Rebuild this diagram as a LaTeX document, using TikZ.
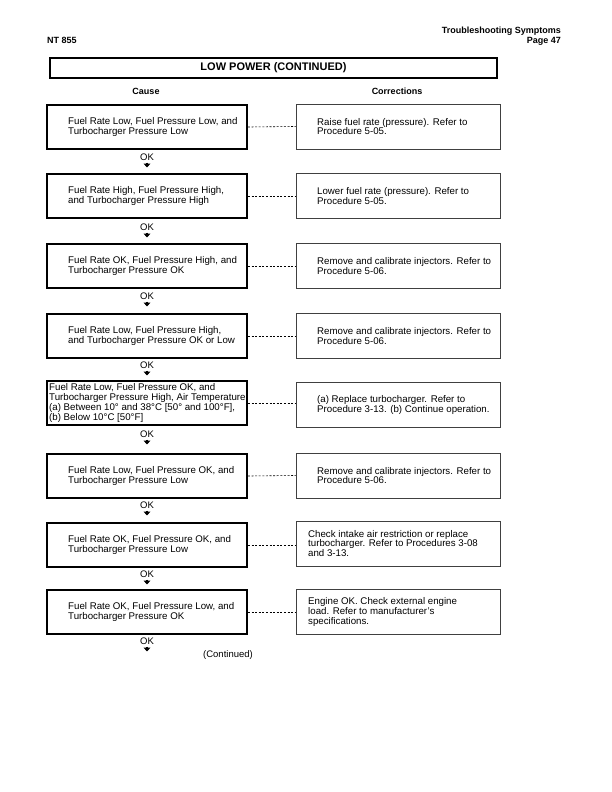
\documentclass[tikz,border=0pt]{standalone}
\usepackage{fontspec}
\setmainfont{Liberation Sans}
\usetikzlibrary{arrows.meta}
\begin{document}
\begin{tikzpicture}[x=1pt,y=-1pt,
 causebox/.style={draw=black,line width=1.8pt,minimum width=200pt,minimum height=44pt,inner sep=0pt},
 corrbox/.style={draw=black!75,line width=0.8pt,minimum width=204pt,minimum height=45pt,inner sep=0pt},
 btext/.style={anchor=west,align=left,font=\fontsize{9.7}{9.8}\selectfont,inner sep=0pt},
 oklabel/.style={font=\fontsize{9.5}{10}\selectfont,inner sep=0pt},
 headtext/.style={font=\bfseries\fontsize{9}{9}\selectfont,inner sep=0pt},
 link/.style={dash pattern=on 2pt off 1.6pt, line width=0.6pt},
 okarrow/.style={-{Triangle[width=6.5pt,length=3.8pt]},line width=1.4pt}]
\useasboundingbox[fill=white] (0,0) rectangle (612,792);

% header
\node[headtext,anchor=base east] (h1) at (561,34) {Troubleshooting Symptoms};
\node[headtext,anchor=base east] (h2) at (561,44) {Page 47};
\node[headtext,anchor=base west] (h3) at (47,44) {NT 855};
\node[draw,line width=1.5pt,minimum width=447pt,minimum height=20pt,inner sep=0pt,
      font=\bfseries\fontsize{11}{11}\selectfont] (title) at (273.5,68) {LOW POWER (CONTINUED)};
\node[headtext] (cause) at (146,91) {Cause};
\node[headtext] (corr) at (397,91) {Corrections};

% row 1
\node[causebox] (c1) at (147,127) {};
\node[btext] (ct1) at (68,127) {Fuel Rate Low, Fuel Pressure Low, and\\Turbocharger Pressure Low};
\node[corrbox] (r1) at (398,126.5) {};
\node[btext] (rt1) at (317,126.5) {Raise fuel rate (pressure). Refer to\\Procedure 5-05.};
\draw[link] (c1.east) -- (r1.west);
\node[oklabel] (ok1) at (147,157) {OK};
\coordinate (a1s) at (147,162.5); \coordinate (a1e) at (147,167.5);
\draw[okarrow] (a1s) -- (a1e);

% row 2
\node[causebox] (c2) at (147,196) {};
\node[btext] (ct2) at (68,196) {Fuel Rate High, Fuel Pressure High,\\and Turbocharger Pressure High};
\node[corrbox] (r2) at (398,196) {};
\node[btext] (rt2) at (317,196) {Lower fuel rate (pressure). Refer to\\Procedure 5-05.};
\draw[link] (c2.east) -- (r2.west);
\node[oklabel] (ok2) at (147,227) {OK};
\coordinate (a2s) at (147,232.5); \coordinate (a2e) at (147,237.5);
\draw[okarrow] (a2s) -- (a2e);

% row 3
\node[causebox] (c3) at (147,266) {};
\node[btext] (ct3) at (68,266) {Fuel Rate OK, Fuel Pressure High, and\\Turbocharger Pressure OK};
\node[corrbox] (r3) at (398,266) {};
\node[btext] (rt3) at (317,266) {Remove and calibrate injectors. Refer to\\Procedure 5-06.};
\draw[link] (c3.east) -- (r3.west);
\node[oklabel] (ok3) at (147,296) {OK};
\coordinate (a3s) at (147,301.5); \coordinate (a3e) at (147,306.5);
\draw[okarrow] (a3s) -- (a3e);

% row 4
\node[causebox] (c4) at (147,336) {};
\node[btext] (ct4) at (68,336) {Fuel Rate Low, Fuel Pressure High,\\and Turbocharger Pressure OK or Low};
\node[corrbox] (r4) at (398,336) {};
\node[btext] (rt4) at (317,336) {Remove and calibrate injectors. Refer to\\Procedure 5-06.};
\draw[link] (c4.east) -- (r4.west);
\node[oklabel] (ok4) at (147,365) {OK};
\coordinate (a4s) at (147,370.5); \coordinate (a4e) at (147,375.5);
\draw[okarrow] (a4s) -- (a4e);

% row 5
\node[causebox] (c5) at (147,403) {};
\node[btext] (ct5) at (49,403) {Fuel Rate Low, Fuel Pressure OK, and\\Turbocharger Pressure High, Air Temperature\\(a) Between 10° and 38°C [50° and 100°F],\\(b) Below 10°C [50°F]};
\node[corrbox] (r5) at (398,405) {};
\node[btext] (rt5) at (317,405) {(a) Replace turbocharger. Refer to\\Procedure 3-13. (b) Continue operation.};
\draw[link] (c5.east) -- (c5.east -| r5.west);
\node[oklabel] (ok5) at (147,434) {OK};
\coordinate (a5s) at (147,439.5); \coordinate (a5e) at (147,444.5);
\draw[okarrow] (a5s) -- (a5e);

% row 6
\node[causebox] (c6) at (147,476) {};
\node[btext] (ct6) at (68,476) {Fuel Rate Low, Fuel Pressure OK, and\\Turbocharger Pressure Low};
\node[corrbox] (r6) at (398,475.5) {};
\node[btext] (rt6) at (317,475.5) {Remove and calibrate injectors. Refer to\\Procedure 5-06.};
\draw[link] (c6.east) -- (r6.west);
\node[oklabel] (ok6) at (147,505) {OK};
\coordinate (a6s) at (147,510.5); \coordinate (a6e) at (147,515.5);
\draw[okarrow] (a6s) -- (a6e);

% row 7
\node[causebox] (c7) at (147,545) {};
\node[btext] (ct7) at (68,545) {Fuel Rate OK, Fuel Pressure OK, and\\Turbocharger Pressure Low};
\node[corrbox] (r7) at (398,543.5) {};
\node[btext] (rt7) at (308,543.5) {Check intake air restriction or replace\\turbocharger. Refer to Procedures 3-08\\and 3-13.};
\draw[link] (c7.east) -- (c7.east -| r7.west);
\node[oklabel] (ok7) at (147,574) {OK};
\coordinate (a7s) at (147,579.5); \coordinate (a7e) at (147,584.5);
\draw[okarrow] (a7s) -- (a7e);

% row 8
\node[causebox] (c8) at (147,612) {};
\node[btext] (ct8) at (68,612) {Fuel Rate OK, Fuel Pressure Low, and\\Turbocharger Pressure OK};
\node[corrbox] (r8) at (398,612) {};
\node[btext] (rt8) at (308,612) {Engine OK. Check external engine\\load. Refer to manufacturer's\\specifications.};
\draw[link] (c8.east) -- (r8.west);
\node[oklabel] (ok8) at (147,641) {OK};
\coordinate (a8s) at (147,646.5); \coordinate (a8e) at (147,651.5);
\draw[okarrow] (a8s) -- (a8e);

\node[oklabel] (cont) at (228,655) {(Continued)};
\end{tikzpicture}
\end{document}
